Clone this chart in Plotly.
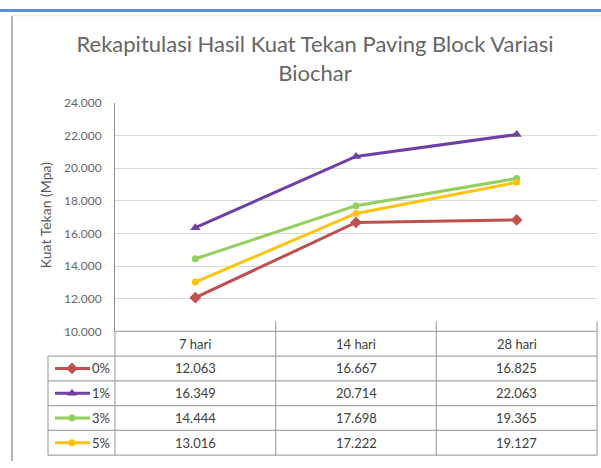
import plotly.graph_objects as go

# ---- data ----
categories = ["7 hari", "14 hari", "28 hari"]
series_names = ["0%", "1%", "3%", "5%"]
v0 = [12.063, 16.667, 16.825]
v1 = [16.349, 20.714, 22.063]
v3 = [14.444, 17.698, 19.365]
v5 = [13.016, 17.222, 19.127]
values = [v0, v1, v3, v5]
colors = ["#c0504d", "#6f3fa6", "#92cf5c", "#ffc20e"]
symbols = ["diamond", "triangle-up", "circle", "circle"]
y_ticks = [10, 12, 14, 16, 18, 20, 22, 24]
y_tick_labels = ["10.000", "12.000", "14.000", "16.000", "18.000", "20.000", "22.000", "24.000"]

W, H = 601, 468
def px(x):
    return x / W
def py(y):
    return 1 - y / H

# plot area in pixels
X0, X1 = 115, 597
Y_TOP, Y_BOT = 98, 334
ROW_H = 25.6
TBL_LEFT = 48
FONT = "Lato, Open Sans, sans-serif"

fig = go.Figure()

for name, vals, c, s in zip(series_names, values, colors, symbols):
    fig.add_trace(go.Scatter(
        x=categories, y=vals, mode="lines+markers", name=name,
        line=dict(color=c, width=3),
        marker=dict(symbol=s, size=9 if s != "circle" else 7, color=c),
        xaxis="x", yaxis="y", showlegend=False, hoverinfo="skip"))

# legend keys inside table (overlay pixel axis)
for i, (name, c, s) in enumerate(zip(series_names, colors, symbols)):
    yc = Y_BOT + ROW_H * (i + 1.5)
    fig.add_trace(go.Scatter(
        x=[55, 90], y=[yc, yc], mode="lines", line=dict(color=c, width=3),
        xaxis="x2", yaxis="y2", showlegend=False, hoverinfo="skip"))
    fig.add_trace(go.Scatter(
        x=[72], y=[yc], mode="markers",
        marker=dict(symbol=s, size=9 if s != "circle" else 7, color=c),
        xaxis="x2", yaxis="y2", showlegend=False, hoverinfo="skip"))

shapes = []
ann = []
gray = "#a6a6a6"

# top blue bar and frame
shapes.append(dict(type="line", xref="paper", yref="paper", x0=0, x1=1, y0=py(2.5), y1=py(2.5),
                   line=dict(color="#5b8dd6", width=3)))
shapes.append(dict(type="line", xref="paper", yref="paper", x0=px(12), x1=px(12), y0=py(8), y1=0,
                   line=dict(color="#9a9a9a", width=1.5)))
shapes.append(dict(type="line", xref="paper", yref="paper", x0=px(12), x1=1, y0=py(8), y1=py(8),
                   line=dict(color="#e4e4e4", width=1)))

# table grid
n_cols = len(categories)
col_w = (X1 - X0) / n_cols
tbl_bottom = Y_BOT + ROW_H * (len(series_names) + 1)
for r in range(len(series_names) + 2):
    y = Y_BOT + ROW_H * r
    xl = X0 if r == 0 else TBL_LEFT
    shapes.append(dict(type="line", xref="paper", yref="paper", x0=px(xl), x1=px(X1),
                       y0=py(y), y1=py(y), line=dict(color=gray, width=1.2)))
shapes.append(dict(type="line", xref="paper", yref="paper", x0=px(TBL_LEFT), x1=px(TBL_LEFT),
                   y0=py(Y_BOT + ROW_H), y1=py(tbl_bottom), line=dict(color=gray, width=1.2)))
for c in range(n_cols + 1):
    x = X0 + col_w * c
    ytop = Y_BOT - 10 if c > 0 else Y_BOT
    shapes.append(dict(type="line", xref="paper", yref="paper", x0=px(x), x1=px(x),
                       y0=py(ytop), y1=py(tbl_bottom), line=dict(color=gray, width=1.2)))

txt_font = dict(family=FONT, size=13, color="#404040")
for j, cat in enumerate(categories):
    ann.append(dict(xref="paper", yref="paper", x=px(X0 + col_w * (j + 0.5)), y=py(Y_BOT + ROW_H * 0.5),
                    text=cat, showarrow=False, font=txt_font, xanchor="center", yanchor="middle"))
for i, (name, vals) in enumerate(zip(series_names, values)):
    yc = Y_BOT + ROW_H * (i + 1.5)
    ann.append(dict(xref="paper", yref="paper", x=px(112), y=py(yc), text=name, showarrow=False,
                    font=txt_font, xanchor="right", yanchor="middle"))
    for j, v in enumerate(vals):
        ann.append(dict(xref="paper", yref="paper", x=px(X0 + col_w * (j + 0.5)), y=py(yc),
                        text=f"{v:.3f}", showarrow=False, font=txt_font, xanchor="center", yanchor="middle"))

# y-axis title
ann.append(dict(xref="paper", yref="paper", x=px(45), y=py(214), text="Kuat Tekan (Mpa)",
                textangle=-90, showarrow=False, xanchor="center", yanchor="middle",
                font=dict(family=FONT, size=14, color="#595959")))

fig.update_layout(
    width=W, height=H, margin=dict(l=0, r=0, t=0, b=0),
    paper_bgcolor="white", plot_bgcolor="rgba(0,0,0,0)",
    title=dict(text="Rekapitulasi Hasil Kuat Tekan Paving Block Variasi<br>Biochar",
               x=px(315), xanchor="center", y=py(52), yanchor="middle",
               font=dict(family=FONT, size=22, color="#666666")),
    xaxis=dict(domain=[px(X0), px(X1)], range=[-0.5, 2.5], type="category",
               showticklabels=False, showgrid=False, zeroline=False, showline=False, fixedrange=True),
    yaxis=dict(domain=[py(Y_BOT), py(Y_TOP)], range=[10, 24], tickvals=y_ticks, ticktext=y_tick_labels,
               showgrid=True, gridcolor="#d9d9d9", gridwidth=1, zeroline=False, fixedrange=True,
               showline=True, linecolor="#8c8c8c", linewidth=1, ticks="", ticklabelstandoff=10,
               tickfont=dict(family=FONT, size=12, color="#666666")),
    xaxis2=dict(domain=[0, 1], range=[0, W], visible=False, fixedrange=True, anchor="y2"),
    yaxis2=dict(domain=[0, 1], range=[H, 0], visible=False, fixedrange=True, anchor="x2"),
    shapes=shapes, annotations=ann,
)
fig.write_html("out.html", config={"displayModeBar": False},
               post_script="document.body.style.margin='0';document.body.style.overflow='hidden';")
